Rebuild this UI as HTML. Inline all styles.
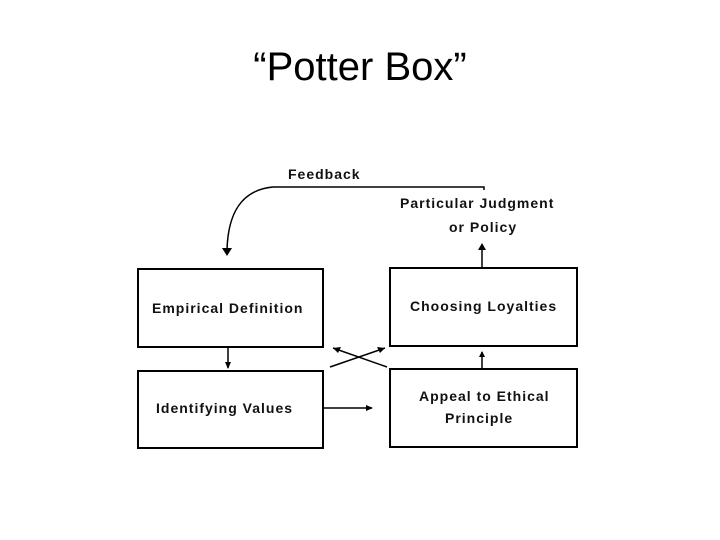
<!DOCTYPE html>
<html><head><style>
body{margin:0;width:720px;height:540px;background:#fff;overflow:hidden;position:relative;font-family:"Liberation Sans",sans-serif}
.t{position:absolute;font-weight:bold;font-size:14px;letter-spacing:1px;color:#111;white-space:nowrap}
</style></head><body>
<div style="position:absolute;top:45px;width:720px;text-align:center;font-size:40px;font-family:'Liberation Sans',sans-serif;color:#000">“Potter Box”</div>
<svg width="720" height="540" style="position:absolute;left:0;top:0">
<g fill="none" stroke="#000" stroke-width="2">
<rect x="138" y="269" width="185" height="78"/>
<rect x="138" y="371" width="185" height="77"/>
<rect x="390" y="268" width="187" height="78"/>
<rect x="390" y="369" width="187" height="78"/>
<path d="M484 190 V187 H273 C240 190 228 215 227 250" stroke-width="1.5"/>
<line x1="482" y1="268" x2="482" y2="248" stroke-width="1.5"/>
<line x1="228" y1="347" x2="228" y2="368" stroke-width="1.5"/>
<line x1="482" y1="369" x2="482" y2="352" stroke-width="1.5"/>
<line x1="324" y1="408" x2="372" y2="408" stroke-width="1.5"/>
<line x1="333" y1="348" x2="387" y2="367" stroke-width="1.5"/>
<line x1="330" y1="367" x2="385" y2="348" stroke-width="1.5"/>
</g>
<g fill="#000">
<polygon points="222,248 232,248 227,256"/>
<polygon points="478,250 486,250 482,243"/>
<polygon points="225,362 231,362 228,369"/>
<polygon points="479,357 485,357 482,351"/>
<polygon points="366,405 366,411 373,408"/>
<polygon points="333,348 341,347 338,353"/>
<polygon points="385,348 377,347 380,353"/>
</g>
</svg>
<div class="t" style="left:288px;top:166px">Feedback</div>
<div class="t" style="left:400px;top:195px">Particular Judgment</div>
<div class="t" style="left:449px;top:219px">or Policy</div>
<div class="t" style="left:152px;top:300px">Empirical Definition</div>
<div class="t" style="left:410px;top:298px">Choosing Loyalties</div>
<div class="t" style="left:156px;top:400px">Identifying Values</div>
<div class="t" style="left:419px;top:388px">Appeal to Ethical</div>
<div class="t" style="left:445px;top:410px">Principle</div>
</body></html>
